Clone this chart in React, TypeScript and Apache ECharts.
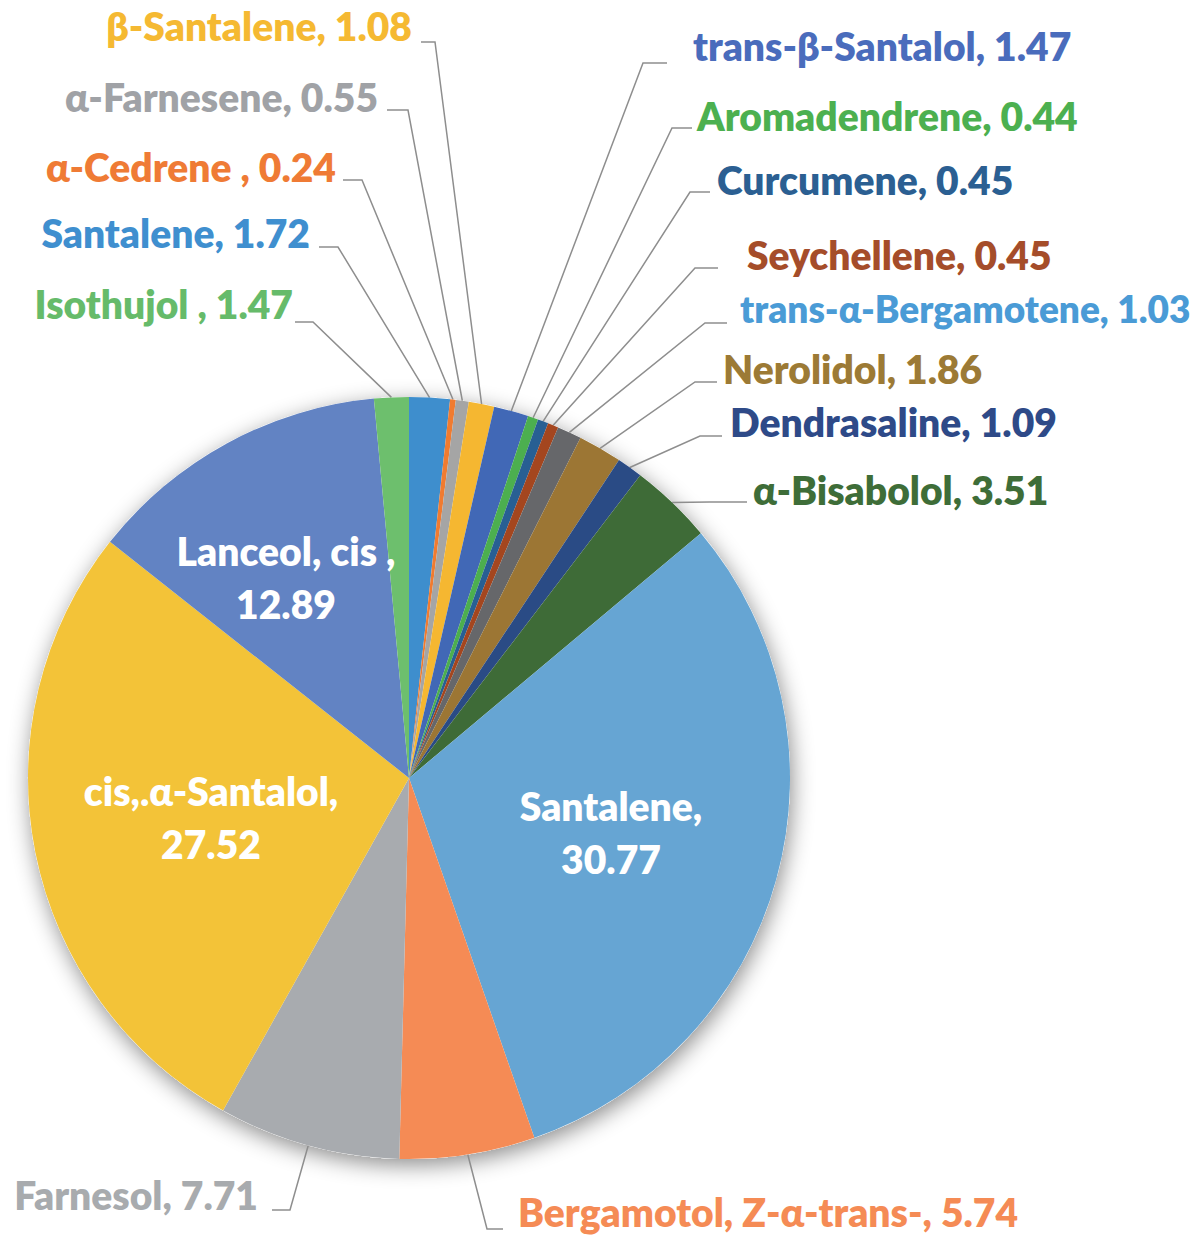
import React, { useEffect, useRef } from "react";
import * as echarts from "echarts";

// ---- data (clockwise from 12 o'clock) ----
const names = [
  "Santalene",
  "α-Cedrene ",
  "α-Farnesene",
  "β-Santalene",
  "trans-β-Santalol",
  "Aromadendrene",
  "Curcumene",
  "Seychellene",
  "trans-α-Bergamotene",
  "Nerolidol",
  "Dendrasaline",
  "α-Bisabolol",
  "Santalene",
  "Bergamotol, Z-α-trans-",
  "Farnesol",
  "cis,.α-Santalol",
  "Lanceol, cis ",
  "Isothujol ",
];
const values = [
  1.72, 0.24, 0.55, 1.08, 1.47, 0.44, 0.45, 0.45, 1.03, 1.86, 1.09, 3.51, 30.77,
  5.74, 7.71, 27.52, 12.89, 1.47,
];
const insideLabels = [12, 15, 16];

// ---- styles ----
const sliceColors = [
  "#3E8ECD", "#F07B30", "#A5A5A5", "#F5B731", "#4168B6", "#4CAF4F", "#285F93",
  "#A4461F", "#66676A", "#9C7634", "#2A4B85", "#3E6B37", "#66A5D3", "#F58B55",
  "#A8ABAF", "#F3C338", "#6283C3", "#6DBF6D",
];
const labelColors = [
  "#3F8FCF", "#EF7B35", "#A0A2A6", "#F5B932", "#4A6CBC", "#4CB050", "#2B5F92",
  "#A54D2A", "#4A9BD6", "#9C7A35", "#2E4A88", "#3E6D38", "#FFFFFF", "#F58B55",
  "#A8ABAE", "#FFFFFF", "#FFFFFF", "#66BB6A",
];
const FONT_SIZE = 39;
const labelSizes = [
  FONT_SIZE, FONT_SIZE, FONT_SIZE, FONT_SIZE, FONT_SIZE, FONT_SIZE, FONT_SIZE,
  FONT_SIZE, 37, FONT_SIZE, FONT_SIZE, FONT_SIZE, FONT_SIZE, FONT_SIZE,
  FONT_SIZE, FONT_SIZE, FONT_SIZE, FONT_SIZE,
];

// label placement (layout only): [x, y, align, elbow, end]
type P = [number, number];
const labelPlace: [number, number, string, P | null, P | null][] = [
  [310, 233, "right", [338, 247], [319, 247]],
  [336, 167, "right", [362, 180], [343, 180]],
  [378, 97, "right", [408, 110], [387, 110]],
  [412, 26, "right", [435, 42], [421, 42]],
  [693, 46, "left", [643, 63], [667, 63]],
  [697, 116, "left", [672, 128], [692, 128]],
  [717, 180, "left", [690, 192], [710, 192]],
  [747, 255, "left", [695, 268], [718, 268]],
  [740, 308, "left", [705, 323], [727, 323]],
  [723, 369, "left", [695, 382], [717, 382]],
  [730, 422, "left", [700, 436], [722, 436]],
  [753, 490, "left", null, [747, 502]],
  [611, 832, "center", null, null],
  [518, 1212, "left", [487, 1229], [503, 1229]],
  [258, 1195, "right", [290, 1210], [272, 1210]],
  [211, 817, "center", null, null],
  [286, 577, "center", null, null],
  [293, 304, "right", [313, 322], [295, 322]],
];

const CX = 409;
const CY = 778;
const R = 381;

export default function App() {
  const ref = useRef<HTMLDivElement>(null);
  useEffect(() => {
    if (!ref.current) return;
    const chart = echarts.init(ref.current, null, { renderer: "svg" });
    const total = values.reduce((a, b) => a + b, 0);
    let acc = 0;
    const edges: P[] = values.map((v) => {
      const m = ((acc + v / 2) / total) * Math.PI * 2;
      acc += v;
      return [CX + R * Math.sin(m), CY - R * Math.cos(m)];
    });

    const data = values.map((v, i) => {
      const inside = insideLabels.includes(i);
      return {
        name: names[i],
        value: v,
        itemStyle: { color: sliceColors[i] },
        label: {
          color: labelColors[i],
          fontSize: labelSizes[i],
          lineHeight: inside ? 53 : 36,
        },
        labelLine: { show: !inside },
      };
    });

    chart.setOption({
      animation: false,
      backgroundColor: "#ffffff",
      series: [
        {
          type: "pie",
          silent: true,
          z: 1,
          center: [CX, CY],
          radius: [0, R],
          startAngle: 90,
          label: { show: false },
          labelLine: { show: false },
          data: [
            {
              value: 1,
              itemStyle: {
                color: "#ffffff",
                shadowBlur: 22,
                shadowColor: "rgba(0,0,0,0.45)",
                shadowOffsetX: 2,
                shadowOffsetY: 6,
              },
            },
          ],
        },
        {
          type: "pie",
          z: 2,
          center: [CX, CY],
          radius: [0, R],
          startAngle: 90,
          clockwise: true,
          avoidLabelOverlap: false,
          emphasis: { disabled: true },
          itemStyle: { borderWidth: 0 },
          label: {
            show: true,
            position: "outside",
            fontFamily: "Lato",
            fontWeight: 800,
            fontSize: FONT_SIZE,
            width: 600,
            overflow: "none",
            formatter: (p: any) => {
              const inside = insideLabels.includes(p.dataIndex);
              return p.name + (inside ? ",\n" : ", ") + Number(p.value).toFixed(2);
            },
          },
          labelLine: {
            show: true,
            lineStyle: { color: "#8E8E8E", width: 1.5 },
          },
          labelLayout: (params: any) => {
            const i = params.dataIndex;
            const [x, y, align, elbow, end] = labelPlace[i];
            const out: any = { x, y, align, verticalAlign: "middle" };
            if (end) {
              const pts: P[] = [edges[i]];
              if (elbow) pts.push(elbow);
              else pts.push([(edges[i][0] + end[0]) / 2, end[1]]);
              pts.push(end);
              out.labelLinePoints = pts;
            }
            return out;
          },
          data,
        },
      ],
    });
    return () => chart.dispose();
  }, []);
  return (
    <div
      ref={ref}
      style={{ position: "fixed", left: 0, top: 0, width: 1193, height: 1237, background: "#fff" }}
    />
  );
}
